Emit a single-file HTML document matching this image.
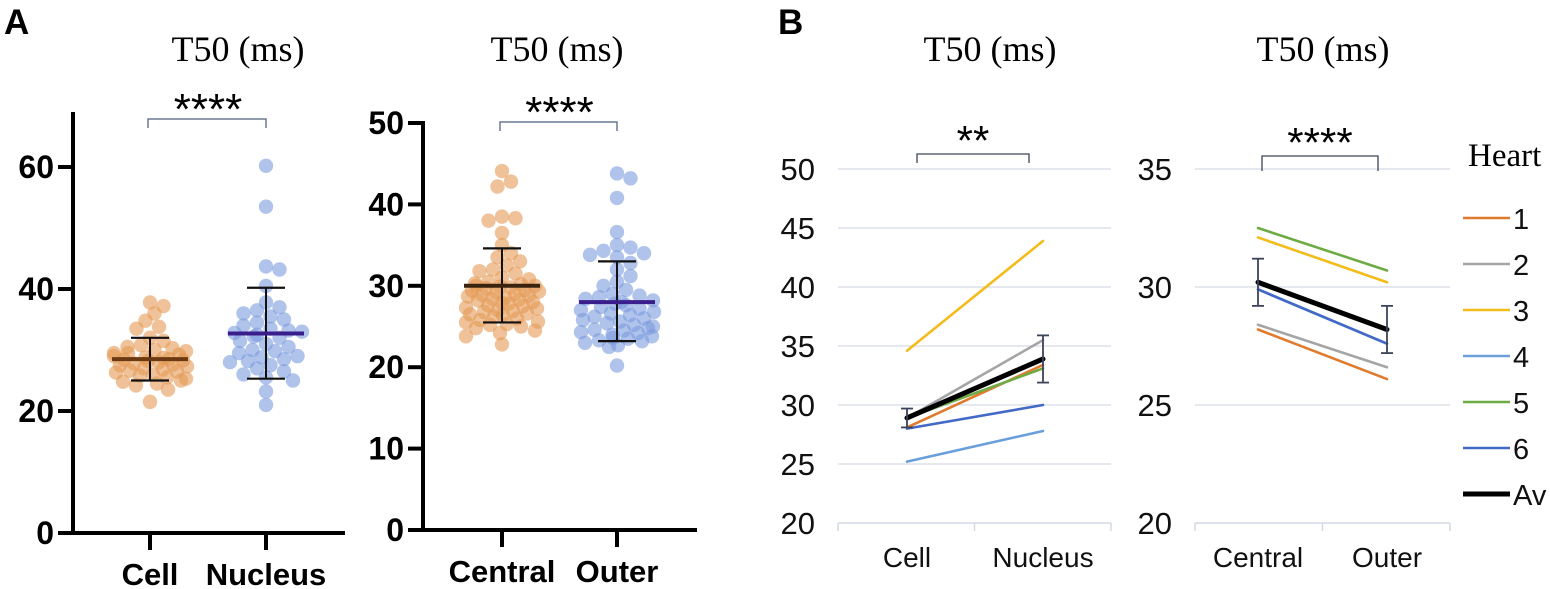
<!DOCTYPE html>
<html><head><meta charset="utf-8"><style>
html,body{margin:0;padding:0;background:#fff;width:1550px;height:589px;overflow:hidden}
svg{display:block}
.ser{font-family:"Liberation Serif",serif}
.sans{font-family:"Liberation Sans",sans-serif}
</style></head><body>
<svg id="fig" width="1550" height="589" viewBox="0 0 1550 589" xmlns="http://www.w3.org/2000/svg">
<text x="4" y="34" class="sans" font-size="35" font-weight="bold">A</text>
<text x="778" y="34" class="sans" font-size="35" font-weight="bold">B</text>
<text x="238" y="61" class="ser" font-size="36" text-anchor="middle">T50 (ms)</text>
<text x="557" y="61" class="ser" font-size="36" text-anchor="middle">T50 (ms)</text>
<text x="990" y="61" class="ser" font-size="36" text-anchor="middle">T50 (ms)</text>
<text x="1323" y="61" class="ser" font-size="36" text-anchor="middle">T50 (ms)</text>
<g id="g"></g>
</svg>
<script>
// ---- Panel A data ----
const aLeftCats = ["Cell","Nucleus"];
const cellVals = [37.8,37.2,36.0,34.8,33.8,33.5,32.0,31.5,30.8,30.5,30.3,30.0,29.8,29.5,29.5,29.2,29.0,28.8,28.7,28.5,28.4,28.3,28.2,28.0,27.8,27.6,27.5,27.3,27.0,26.8,26.6,26.5,26.3,26.0,25.8,25.5,25.3,25.0,24.8,24.5,24.2,23.5,21.5];
const nucleusVals = [60.2,53.5,43.7,43.2,40.5,37.8,37.0,36.5,36.0,35.5,35.0,34.5,34.0,33.5,33.2,33.0,32.8,32.5,32.2,32.0,31.5,31.0,30.5,30.0,29.8,29.5,29.0,28.8,28.5,28.2,28.0,27.5,27.0,26.5,26.0,25.5,25.0,23.2,21.0];
const aLeftMean = [28.5,32.7];
const aLeftSdLo = [25.0,25.3];
const aLeftSdHi = [32.0,40.2];
const aLeftTicks = [0,20,40,60];
const aRightCats = ["Central","Outer"];
const centralVals = [44.1,42.8,42.2,38.5,38.3,38.0,36.5,35.0,34.0,33.5,33.0,32.5,32.0,31.8,31.5,31.0,30.8,30.5,30.3,30.2,30.0,30.0,29.9,29.8,29.7,29.5,29.4,29.3,29.2,29.0,28.9,28.8,28.7,28.5,28.4,28.3,28.2,28.0,27.9,27.8,27.6,27.5,27.3,27.2,27.0,26.9,26.8,26.6,26.5,26.4,26.2,26.0,25.8,25.6,25.5,25.3,25.2,25.0,24.8,24.5,24.2,23.8,22.8];
const outerVals = [43.8,43.2,40.8,36.6,35.0,34.7,34.3,34.0,33.8,33.5,32.8,32.0,31.2,30.5,30.0,29.5,29.0,28.8,28.6,28.4,28.2,28.0,27.8,27.6,27.4,27.2,27.0,26.8,26.6,26.4,26.2,26.0,25.8,25.6,25.4,25.2,25.0,24.8,24.6,24.5,24.3,24.2,24.0,23.8,23.6,23.5,23.3,23.2,23.0,22.7,22.5,20.2];
const aRightMean = [30.0,28.0];
const aRightSdLo = [25.5,23.2];
const aRightSdHi = [34.6,33.0];
const aRightTicks = [0,10,20,30,40,50];
// ---- Panel B data ----
const bLeftCats = ["Cell","Nucleus"];
const bRightCats = ["Central","Outer"];
const heartNames = ["1","2","3","4","5","6","Av"];
const heartColors = ["#E07B2E","#A5A5A5","#F2BC1B","#6A9FDB","#6FAB44","#4369C6","#000000"];
const bLeftStart = [28.1,28.9,34.6,25.2,28.9,28.0,28.9];
const bLeftEnd   = [33.4,35.5,43.9,27.8,33.1,30.0,33.9];
const bLeftErr = [0.8,2.0];
const bRightStart = [28.2,28.4,32.1,29.9,32.5,29.9,30.2];
const bRightEnd   = [26.1,26.6,30.2,27.6,30.7,27.6,28.2];
const bRightErr = [1.0,1.0];
const bLeftTicks = [20,25,30,35,40,45,50];
const bRightTicks = [20,25,30,35];

const NS="http://www.w3.org/2000/svg";
const G=document.getElementById('g');
function mk(tag,at,parent){const e=document.createElementNS(NS,tag);for(const k in at)e.setAttribute(k,at[k]);(parent||G).appendChild(e);return e;}

function scatterPanel(o){
  const y=v=>o.y0-(v-o.vmin)/(o.vmax-o.vmin)*(o.y0-o.yTop);
  const ax=mk('g',{});
  
  
  mk('line',{x1:o.ax,y1:o.axTop,x2:o.ax,y2:o.y0+2,stroke:'#000','stroke-width':4},ax);
  mk('line',{x1:o.ax-15,y1:o.y0,x2:o.xEnd,y2:o.y0,stroke:'#000','stroke-width':4},ax);
  o.ticks.forEach(t=>{
    mk('line',{x1:o.ax-15,y1:y(t),x2:o.ax,y2:y(t),stroke:'#000','stroke-width':4},ax);
    const tx=mk('text',{x:o.ax-19,y:y(t)+11,'text-anchor':'end','font-size':32,'font-weight':'bold',class:'sans'},ax);
    tx.textContent=t;
    
    
  });
  o.groups.forEach((gr,i)=>{
    const cx=o.cx[i];
    mk('line',{x1:cx,y1:o.y0,x2:cx,y2:o.y0+17,stroke:'#000','stroke-width':4},ax);
    const lb=mk('text',{x:cx,y:o.y0+52,'text-anchor':'middle','font-size':31,'font-weight':'bold',class:'sans'},ax);
    lb.textContent=o.cats[i];
    
    
    const g=mk('g',{});
    
    
    const placed=[];
    const sorted=gr.vals.slice().sort((a,b)=>b-a);
    sorted.forEach(v=>{
      const py=y(v);let best=0,found=false;
      for(let k=0;k<40;k++){
        const off=(k%2?1:-1)*Math.ceil(k/2)*4.5;
        if(Math.abs(off)>o.maxW) continue;
        if(placed.every(p=>Math.hypot(p[0]-off,p[1]-py)>=11.5)){best=off;found=true;break;}
      }
      if(!found){best=(placed.length%2?1:-1)*((placed.length*7)%o.maxW);}
      placed.push([best,py]);
      const c=mk('circle',{cx:cx+best,cy:py,r:7.2,fill:gr.color,'fill-opacity':0.6},g);
      
      
    });
    const m=mk('g',{});
    
    
    mk('line',{x1:cx,y1:y(o.lo[i]),x2:cx,y2:y(o.hi[i]),stroke:'#111','stroke-width':2},m);
    mk('line',{x1:cx-19,y1:y(o.lo[i]),x2:cx+19,y2:y(o.lo[i]),stroke:'#111','stroke-width':2.2},m);
    mk('line',{x1:cx-19,y1:y(o.hi[i]),x2:cx+19,y2:y(o.hi[i]),stroke:'#111','stroke-width':2.2},m);
    mk('line',{x1:cx-38,y1:y(o.mean[i]),x2:cx+38,y2:y(o.mean[i]),stroke:gr.meanColor,'stroke-width':4},m);
  });
  const b=mk('g',{});
  
  
  mk('path',{d:`M${o.cx[0]-2},${o.bY+9}V${o.bY}H${o.cx[1]}V${o.bY+9}`,fill:'none',stroke:'#6a7a90','stroke-width':1.5},b);
  const st=mk('text',{x:(o.cx[0]+o.cx[1])/2,y:o.bY+5,'text-anchor':'middle','font-size':44,class:'sans'},b);
  st.textContent='****';
}
scatterPanel({name:'a-left',ax:73,axTop:112,y0:533,yTop:167,vmin:0,vmax:60,xEnd:345,ticks:aLeftTicks,cats:aLeftCats,cx:[150,266],maxW:38,
  groups:[{vals:cellVals,color:'#E59A55',meanColor:'#6B3A12'},{vals:nucleusVals,color:'#7C9BDD',meanColor:'#3A1E8C'}],
  mean:aLeftMean,lo:aLeftSdLo,hi:aLeftSdHi,bY:119});
scatterPanel({name:'a-right',ax:423,axTop:121,y0:530,yTop:123,vmin:0,vmax:50,xEnd:697,ticks:aRightTicks,cats:aRightCats,cx:[502,617],maxW:38,
  groups:[{vals:centralVals,color:'#E59A55',meanColor:'#3a2410'},{vals:outerVals,color:'#7C9BDD',meanColor:'#3A1E8C'}],
  mean:aRightMean,lo:aRightSdLo,hi:aRightSdHi,bY:122});

function linePanel(o){
  const y=v=>o.y0-(v-o.vmin)/(o.vmax-o.vmin)*(o.y0-o.yTop);
  const ax=mk('g',{});
  
  
  o.ticks.forEach(t=>{
    if(t!==o.vmin) mk('line',{x1:o.x0,y1:y(t),x2:o.x1,y2:y(t),stroke:'#dde1ea','stroke-width':1.5},ax);
    const tx=mk('text',{x:o.lx,y:y(t)+11,'text-anchor':'end','font-size':31,class:'sans',fill:'#111'},ax);
    tx.textContent=t;
    
    
  });
  mk('line',{x1:o.x0,y1:o.y0,x2:o.x1,y2:o.y0,stroke:'#d4d9e3','stroke-width':1.5},ax);
  [o.x0,(o.x0+o.x1)/2,o.x1].forEach(x=>mk('line',{x1:x,y1:o.y0,x2:x,y2:o.y0+8,stroke:'#d4d9e3','stroke-width':1.5},ax));
  o.cats.forEach((c,i)=>{
    const lb=mk('text',{x:o.cx[i],y:o.y0+44,'text-anchor':'middle','font-size':28,class:'sans',fill:'#111'},ax);
    lb.textContent=c;
    
    
  });
  const order=[3,0,5,1,4,2,6];
  order.forEach(i=>{
    const l=mk('line',{x1:o.cx[0],y1:y(o.s[i]),x2:o.cx[1],y2:y(o.e[i]),stroke:heartColors[i],'stroke-width':i===6?5:2.6,'stroke-linecap':'round'});
    
    
  });
  const av=[o.s[6],o.e[6]];
  o.err.forEach((er,i)=>{
    const eg=mk('g',{});
    
    
    const x=o.cx[i];
    mk('line',{x1:x,y1:y(av[i]-er),x2:x,y2:y(av[i]+er),stroke:'#3b4458','stroke-width':1.8},eg);
    mk('line',{x1:x-6,y1:y(av[i]-er),x2:x+6,y2:y(av[i]-er),stroke:'#3b4458','stroke-width':1.8},eg);
    mk('line',{x1:x-6,y1:y(av[i]+er),x2:x+6,y2:y(av[i]+er),stroke:'#3b4458','stroke-width':1.8},eg);
  });
  const b=mk('g',{});
  
  
  mk('path',{d:`M${o.bx[0]},${o.bY+o.bh}V${o.bY}H${o.bx[1]}V${o.bY+o.bh}`,fill:'none',stroke:'#3b4458','stroke-width':1.3},b);
  const st=mk('text',{x:(o.bx[0]+o.bx[1])/2,y:o.bY+1,'text-anchor':'middle','font-size':42,class:'sans'},b);
  st.textContent=o.stars;
}
linePanel({name:'b-left',x0:838,x1:1111,lx:815,y0:523,yTop:169,vmin:20,vmax:50,ticks:bLeftTicks,cats:bLeftCats,cx:[907,1043],
  s:bLeftStart,e:bLeftEnd,err:bLeftErr,bx:[917,1029],bY:154,bh:9,stars:'**'});
linePanel({name:'b-right',x0:1195,x1:1450,lx:1172,y0:523,yTop:169,vmin:20,vmax:35,ticks:bRightTicks,cats:bRightCats,cx:[1258,1387],
  s:bRightStart,e:bRightEnd,err:bRightErr,bx:[1262,1378],bY:156,bh:15,stars:'****'});

const lg=mk('g',{});


const ht=mk('text',{x:1468,y:166,'font-size':33,class:'ser'},lg);
ht.textContent='Heart';
heartNames.forEach((n,i)=>{
  const yy=218+i*46;
  const e=mk('g',{},lg);
  
  
  mk('line',{x1:1463,y1:yy,x2:1510,y2:yy,stroke:heartColors[i],'stroke-width':i===6?5:2.6},e);
  const t=mk('text',{x:1513,y:yy+11,'font-size':29,class:'sans',fill:'#111'},e);
  t.textContent=n;
});
</script>
</body></html>
